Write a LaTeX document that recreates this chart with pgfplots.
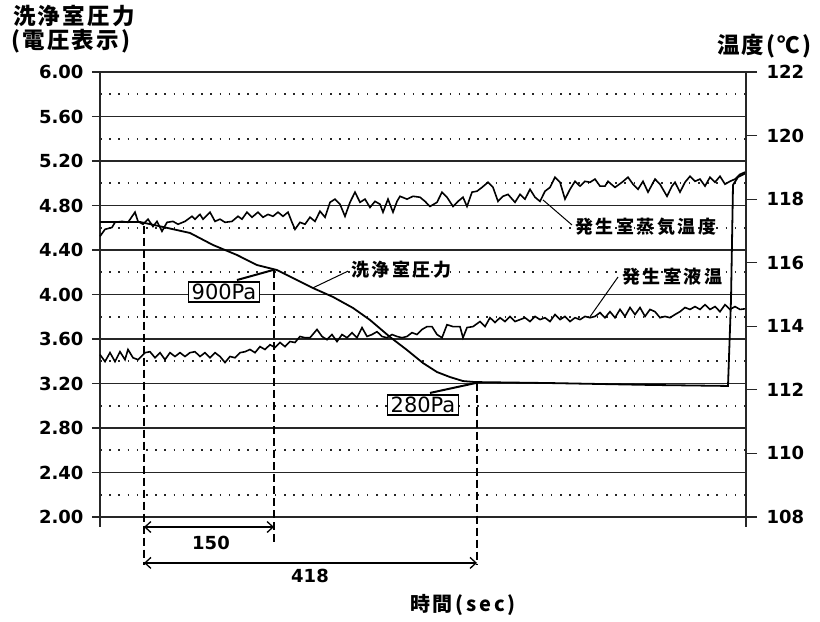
\documentclass[border=0pt]{standalone}
\usepackage{fontspec}
\usepackage{pgfplots}
\pgfplotsset{compat=1.18}
\usetikzlibrary{arrows.meta}
\setmainfont{DejaVu Sans}
\newfontfamily\cjk{Noto Sans CJK JP}[LetterSpace=14]
\newfontfamily\cjkt{Noto Sans CJK JP}[LetterSpace=10]
\newcommand\tickfont{\fontsize{18bp}{20bp}\selectfont\bfseries}
\newcommand\lblfont{\fontsize{18bp}{20bp}\selectfont\cjk\bfseries}
\newcommand\xlblfont{\fontsize{20bp}{22bp}\selectfont\cjk\bfseries}
\newcommand\titfont{\fontsize{22.5bp}{24bp}\selectfont\cjkt\bfseries}
\newcommand\boxfont{\fontsize{21bp}{23bp}\selectfont}

\pgfplotstableread{
x y
3 4.652
43 4.652
66 4.607
93 4.553
116 4.445
140 4.355
160 4.265
180 4.220
200 4.130
216 4.058
236 3.978
256 3.879
273 3.771
293 3.618
310 3.501
326 3.384
340 3.303
353 3.258
366 3.222
378 3.213
453 3.204
553 3.187
631 3.178
634 3.951
636 4.984
641 5.056
649 5.092
}\pressure

\pgfplotstableread{
x t
3 116.83
8 117.05
15 117.11
18 117.27
25 117.30
31 117.27
38 117.59
41 117.30
46 117.21
51 117.37
56 117.14
60 117.30
65 116.99
70 117.27
76 117.30
81 117.21
88 117.30
95 117.46
98 117.37
103 117.52
106 117.37
113 117.59
118 117.30
123 117.37
128 117.27
135 117.30
141 117.46
145 117.37
150 117.59
155 117.43
161 117.59
166 117.43
171 117.52
176 117.46
181 117.59
186 117.46
191 117.59
195 117.27
198 117.05
203 117.27
208 117.21
213 117.43
218 117.30
223 117.62
228 117.43
233 117.90
238 118.00
243 117.84
248 117.46
253 117.90
258 118.22
263 117.90
268 118.00
273 117.74
278 117.93
283 117.84
286 117.59
291 118.00
296 117.59
300 117.93
303 118.09
310 118.00
316 118.09
323 118.06
328 117.93
333 117.77
340 117.90
345 118.22
350 118.06
356 117.77
361 117.93
366 118.06
370 117.77
375 118.22
380 118.25
385 118.37
391 118.53
396 118.37
401 117.93
406 118.09
411 118.15
418 117.90
423 118.15
428 118.00
433 118.31
438 118.06
443 117.93
448 118.25
453 118.37
458 118.69
463 118.53
468 118.00
473 118.31
478 118.56
483 118.41
488 118.56
493 118.53
498 118.63
503 118.41
508 118.41
511 118.56
518 118.37
525 118.53
531 118.69
536 118.47
541 118.31
546 118.56
551 118.22
558 118.63
563 118.47
570 118.09
575 118.41
578 118.53
583 118.22
588 118.53
593 118.72
598 118.56
603 118.63
608 118.41
613 118.69
618 118.53
623 118.72
628 118.47
633 118.56
638 118.63
643 118.78
648 118.85
}\steam

\pgfplotstableread{
x t
3 113.11
8 112.89
13 113.17
18 112.89
23 113.20
28 112.95
31 113.27
36 113.01
41 112.95
48 113.17
53 113.20
58 113.01
63 113.17
68 112.95
73 113.17
78 113.05
83 113.17
88 113.05
93 113.17
98 113.20
103 113.05
108 113.17
113 113.01
118 113.17
123 113.05
128 112.86
133 113.05
138 113.01
143 113.17
148 113.20
153 113.27
158 113.17
163 113.36
168 113.27
173 113.42
178 113.33
183 113.49
188 113.36
193 113.52
198 113.49
203 113.68
208 113.64
213 113.64
220 113.90
225 113.68
230 113.58
235 113.74
240 113.52
245 113.74
250 113.64
255 113.80
260 113.64
265 113.96
270 113.68
275 113.74
280 113.83
285 113.68
290 113.64
295 113.74
300 113.68
305 113.64
310 113.68
315 113.80
320 113.74
325 113.90
330 113.99
335 113.99
340 113.74
345 113.64
350 114.05
356 113.99
363 113.99
366 113.64
370 113.96
376 113.99
383 114.15
388 113.99
393 114.27
398 114.12
403 114.27
408 114.15
413 114.31
418 114.15
423 114.21
428 114.27
433 114.15
438 114.31
443 114.21
448 114.27
453 114.15
458 114.37
463 114.21
468 114.31
473 114.15
478 114.27
483 114.21
488 114.31
493 114.27
498 114.31
503 114.43
508 114.27
513 114.46
518 114.27
523 114.53
528 114.31
533 114.59
538 114.37
543 114.59
548 114.31
553 114.53
558 114.46
563 114.27
568 114.31
573 114.27
578 114.37
583 114.46
588 114.59
593 114.53
598 114.62
603 114.53
608 114.68
613 114.53
618 114.62
623 114.46
628 114.68
633 114.53
638 114.62
643 114.53
648 114.55
}\liquid

\begin{document}
\begin{tikzpicture}
\path[use as bounding box] (-100bp,-105bp) rectangle (720bp,517bp);
\begin{axis}[
  at={(0,0)}, anchor=south west,
  width=646bp, height=445bp, scale only axis,
  xmin=3, xmax=649, ymin=2, ymax=6,
  axis x line=none, axis y line*=left,
  ytick={2,2.4,2.8,3.2,3.6,4,4.4,4.8,5.2,5.6,6},
  minor ytick={2.2,2.6,3.0,3.4,3.8,4.2,4.6,5.0,5.4,5.8},
  ymajorgrids, yminorgrids,
  major grid style={line width=1.2bp, black!85},
  minor grid style={line width=1.6bp, black!85, dash pattern=on 1.6bp off 7.6bp},
  tick align=outside, major tick length=8bp, minor tick length=0pt,
  ytick style={line width=1.2bp, black!85},
  y axis line style={line width=1.4bp, black!85},
  yticklabel style={font=\tickfont, xshift=-5bp, /pgf/number format/.cd, fixed, fixed zerofill, precision=2, assume math mode=true},
  clip=false,
]
\addplot[no marks, line width=1.8bp, black] table[x=x,y=y] {\pressure};
% axis extension
\draw[line width=1.4bp, black!85] (axis cs:3,2) -- (axis cs:3,1.91);
% dashed verticals
\draw[line width=1.6bp, dash pattern=on 8bp off 4bp] (axis cs:47,4.62) -- (axis cs:47,1.57);
\draw[line width=1.6bp, dash pattern=on 8bp off 4bp] (axis cs:177,4.22) -- (axis cs:177,1.75);
\draw[line width=1.6bp, dash pattern=on 8bp off 4bp] (axis cs:380,3.20) -- (axis cs:380,1.57);
% dimension arrows
\draw[line width=1.3bp, {Straight Barb[length=6bp,width=11bp]}-{Straight Barb[length=6bp,width=11bp]}] (axis cs:47,1.91) -- (axis cs:177,1.91);
\draw[line width=1.3bp, {Straight Barb[length=6bp,width=11bp]}-{Straight Barb[length=6bp,width=11bp]}] (axis cs:47,1.587) -- (axis cs:380,1.587);
\node[font=\tickfont] at (axis cs:114,1.766) {150};
\node[font=\tickfont] at (axis cs:213,1.47) {418};
\node[font=\xlblfont] at (axis cs:366,1.21) {時間(sec)};
% boxed labels
\draw[line width=2bp] (axis cs:140,4.13) -- (axis cs:176,4.22);
\node[draw, line width=1.3bp, fill=white, inner xsep=3bp, inner ysep=2bp, font=\boxfont] at (axis cs:127,4.022) {900Pa};
\draw[line width=2bp] (axis cs:333,3.115) -- (axis cs:379,3.205);
\node[draw, line width=1.3bp, fill=white, inner xsep=3bp, inner ysep=2bp, font=\boxfont] at (axis cs:326,3.007) {280Pa};
% series labels
\draw[line width=1bp] (axis cs:251,4.21) -- (axis cs:216,4.06);
\node[anchor=west, font=\lblfont, inner sep=1bp] at (axis cs:253,4.22) {洗浄室圧力};
\draw[line width=1bp] (axis cs:475,4.625) -- (axis cs:446,4.85);
\node[anchor=west, font=\lblfont, inner sep=1bp] at (axis cs:477,4.607) {発生室蒸気温度};
\draw[line width=1bp] (axis cs:521,4.157) -- (axis cs:493,3.80);
\node[anchor=west, font=\lblfont, inner sep=1bp] at (axis cs:524,4.157) {発生室液温};
% axis titles
\node[anchor=west, font=\titfont, inner sep=0pt] at (axis cs:-84,6.503) {洗浄室圧力};
\node[anchor=west, font=\titfont, inner sep=0pt] at (axis cs:-86,6.279) {(電圧表示)};
\node[anchor=west, font=\titfont, inner sep=0pt] at (axis cs:620,6.234) {温度(℃)};
\end{axis}
\begin{axis}[
  at={(0,0)}, anchor=south west,
  width=646bp, height=445bp, scale only axis,
  xmin=3, xmax=649, ymin=108, ymax=122,
  axis x line=none, axis y line*=right,
  ytick={108,110,112,114,116,118,120,122},
  tick align=outside, major tick length=11bp,
  ytick style={line width=1.2bp, black!85},
  y axis line style={line width=1.4bp, black!85},
  yticklabel style={font=\tickfont, xshift=6bp, /pgf/number format/assume math mode=true},
  clip=false,
]
\addplot[no marks, line width=1.6bp, black] table[x=x,y=t] {\steam};
\addplot[no marks, line width=1.6bp, black] table[x=x,y=t] {\liquid};
\draw[line width=1.4bp, black!85] (axis cs:649,108) -- (axis cs:649,107.67);
\end{axis}
\end{tikzpicture}
\end{document}
